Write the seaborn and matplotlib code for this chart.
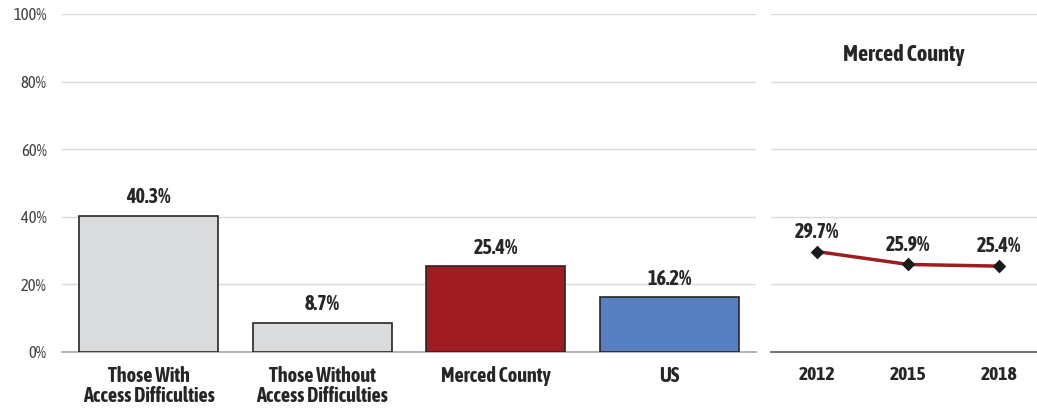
import numpy as np
import pandas as pd
import matplotlib
matplotlib.use("Agg")
import matplotlib.pyplot as plt
import seaborn as sns
from matplotlib.ticker import PercentFormatter

# Data
bar_labels = ["Those With\nAccess Difficulties", "Those Without\nAccess Difficulties", "Merced County", "US"]
bar_values = [40.3, 8.7, 25.4, 16.2]
bar_colors = ["#dadbdc", "#dadbdc", "#a01c21", "#577fc1"]

years = ["2012", "2015", "2018"]
trend_values = [29.7, 25.9, 25.4]

sns.set_theme(style="white")
plt.rcParams['font.family'] = ['Liberation Sans Narrow', 'Asap Condensed', 'Barlow Semi Condensed', 'Liberation Sans', 'DejaVu Sans']
text_color = "#262626"
grid_color = "#d9d9d9"

fig = plt.figure(figsize=(10.37, 4.09), dpi=100)
ax = fig.add_axes([0.0598, 0.1394, 0.6692, 0.8264])
ax2 = fig.add_axes([0.7435, 0.1394, 0.2565, 0.8264])

# Bar panel
bar_df = pd.DataFrame({"group": bar_labels, "value": bar_values})
sns.barplot(data=bar_df, x="group", y="value", hue="group", palette=bar_colors, saturation=1,
            legend=False, width=0.8, edgecolor="#262626", linewidth=1.2, ax=ax, zorder=3)
for i, v in enumerate(bar_values):
    ax.annotate(f"{v:.1f}%", (i, v), xytext=(0, 6), textcoords="offset points",
                ha="center", va="bottom", fontsize=14.5, fontweight="bold", color=text_color)
ax.set_xlim(-0.5, 3.5)
ax.set_ylim(0, 100)
ax.set_yticks(np.arange(0, 101, 20))
ax.yaxis.set_major_formatter(PercentFormatter(decimals=0))
ax.grid(axis="y", color=grid_color, linewidth=1, zorder=0)
ax.set_axisbelow(True)
for s in ["top", "right", "left"]:
    ax.spines[s].set_visible(False)
ax.spines["bottom"].set_color("#a6a6a6")
ax.spines["bottom"].set_linewidth(1.2)
ax.tick_params(axis="y", length=0, labelsize=12, labelcolor="#404040", pad=11)
ax.tick_params(axis="x", length=0, labelsize=14.5, labelcolor=text_color, pad=10)
for lbl in ax.get_xticklabels():
    lbl.set_fontweight("bold")
    lbl.set_linespacing(1.0)
ax.set_xlabel("")
ax.set_ylabel("")

# Trend panel
trend_df = pd.DataFrame({"year": years, "value": trend_values})
sns.pointplot(data=trend_df, x="year", y="value", color="#a01c21", markers="D",
              linewidth=2.5, markersize=5, ax=ax2)
for ln in ax2.lines:
    ln.set_markerfacecolor("#1a1a1a")
    ln.set_markeredgecolor("#1a1a1a")
for i, v in enumerate(trend_values):
    ax2.annotate(f"{v:.1f}%", (i, v), xytext=(0, 7), textcoords="offset points",
                 ha="center", va="bottom", fontsize=14.5, fontweight="bold", color=text_color)
ax2.text(0.5, 0.88, "Merced County", transform=ax2.transAxes, ha="center", va="center",
         fontsize=16, fontweight="bold", color=text_color)
ax2.set_xlim(-0.51, 2.42)
ax2.set_ylim(0, 100)
ax2.set_yticks(np.arange(0, 101, 20))
ax2.set_yticklabels([])
ax2.grid(axis="y", color=grid_color, linewidth=1, zorder=0)
ax2.set_axisbelow(True)
for s in ["top", "right", "left"]:
    ax2.spines[s].set_visible(False)
ax2.spines["bottom"].set_color("#595959")
ax2.spines["bottom"].set_linewidth(1.2)
ax2.tick_params(axis="both", length=0)
ax2.tick_params(axis="x", labelsize=14, labelcolor=text_color, pad=10)
for lbl in ax2.get_xticklabels():
    lbl.set_fontweight("bold")
ax2.set_xlabel("")
ax2.set_ylabel("")

fig.savefig("out.png", dpi=100)
